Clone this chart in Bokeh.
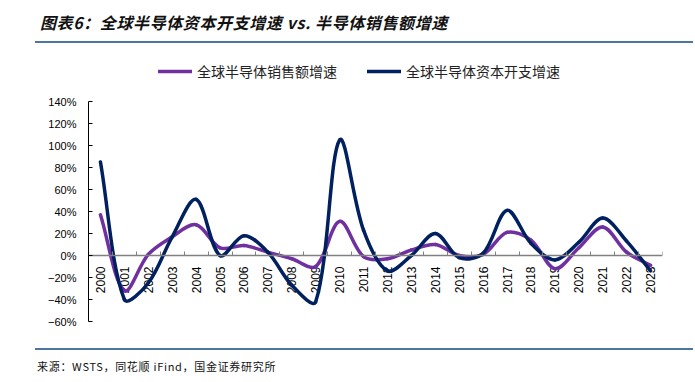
import numpy as np
from bokeh.plotting import figure
from bokeh.models import Range1d, FixedTicker, Legend, LegendItem, Div, ColumnDataSource
from bokeh.layouts import column
from bokeh.embed import file_html
from bokeh.resources import INLINE
from bokeh.core.properties import value

# ---------------- data ----------------
years = ["2000", "2001", "2002", "2003", "2004", "2005", "2006", "2007",
         "2008", "2009", "2010", "2011", "2012", "2013", "2014", "2015",
         "2016", "2017", "2018", "2019", "2020", "2021", "2022", "2023"]
sales_growth = [37, -32, 1, 17, 28, 7, 9, 3, -3, -10, 31, -1,
                -3, 5, 10, 0, 1, 21, 14, -12, 7, 26, 3, -9]
capex_growth = [85, -40, -25, 17, 51, 0, 18, 3, -27, -42, 105, 23,
                -14, 0, 20, -2, 2, 41, 11, -4, 12, 34, 13, -14]
y_ticks = [-60, -40, -20, 0, 20, 40, 60, 80, 100, 120, 140]
sales_name = "全球半导体销售额增速"
capex_name = "全球半导体资本开支增速"
title_text = "图表6：全球半导体资本开支增速 vs. 半导体销售额增速"
source_text = "来源：WSTS，同花顺 iFind，国金证券研究所"

SALES_COLOR = "#7030A0"
CAPEX_COLOR = "#002060"
RULE_COLOR = "#4a76a0"

# ---------------- layout constants (px) ----------------
W = 693
FRAME_LEFT, FRAME_RIGHT = 88, 662
FIG_TOP, FRAME_TOP, FRAME_BOTTOM, FIG_BOTTOM = 44, 56, 321, 346
PX_PER_PCT = 1.1
PX_PER_CAT = (FRAME_RIGHT - FRAME_LEFT) / len(years)
frame_h = FRAME_BOTTOM - FRAME_TOP
y_lo = y_ticks[0]
y_hi_range = y_lo + frame_h / PX_PER_PCT

xs = np.arange(len(years), dtype=float)


def smooth_segments(vals):
    """Bezier segments through the points, tangents weighted by segment length
    (similar to spreadsheet 'smoothed line')."""
    y = np.asarray(vals, dtype=float)
    n = len(y)
    sx, sy = xs * PX_PER_CAT, y * PX_PER_PCT

    def dist(i, j):
        return float(np.hypot(sx[j] - sx[i], sy[j] - sy[i]))

    d = dict(x0=[], y0=[], x1=[], y1=[], cx0=[], cy0=[], cx1=[], cy1=[])
    for i in range(n - 1):
        a, b = max(i - 1, 0), min(i + 2, n - 1)
        d12 = dist(i, i + 1)
        d01 = dist(a, i)
        d23 = dist(i + 1, b)
        f0 = d12 / (d01 + d12) / 3 if (d01 + d12) > 0 else 0
        f1 = d12 / (d12 + d23) / 3 if (d12 + d23) > 0 else 0
        d["x0"].append(xs[i]); d["y0"].append(y[i])
        d["x1"].append(xs[i + 1]); d["y1"].append(y[i + 1])
        d["cx0"].append(xs[i] + (xs[i + 1] - xs[a]) * f0)
        d["cy0"].append(y[i] + (y[i + 1] - y[a]) * f0)
        d["cx1"].append(xs[i + 1] - (xs[b] - xs[i]) * f1)
        d["cy1"].append(y[i + 1] - (y[b] - y[i]) * f1)
    return ColumnDataSource(d)


p = figure(width=W, height=FIG_BOTTOM - FIG_TOP, output_backend="svg",
           toolbar_location=None,
           x_range=Range1d(-0.5, len(years) - 0.5),
           y_range=Range1d(y_lo, y_hi_range),
           min_border_left=FRAME_LEFT, min_border_right=W - FRAME_RIGHT,
           min_border_top=FRAME_TOP - FIG_TOP,
           min_border_bottom=FIG_BOTTOM - FRAME_BOTTOM)
p.outline_line_color = None
p.xgrid.visible = False
p.ygrid.visible = False
p.background_fill_color = "white"
p.border_fill_color = "white"

# y axis
ya = p.yaxis[0]
ya.ticker = FixedTicker(ticks=y_ticks)
ya.bounds = (y_ticks[0], y_ticks[-1])
ya.major_label_overrides = {v: (f"{v}%" if v >= 0 else f"\u2212{-v}%") for v in y_ticks}
ya.major_label_text_font = "Liberation Sans"
ya.major_label_text_font_size = "11px"
ya.major_label_text_color = "black"
ya.major_label_standoff = 12
ya.major_tick_in = 4
ya.major_tick_out = 0
ya.minor_tick_line_color = None
ya.axis_line_color = "black"
ya.major_tick_line_color = "black"

# x axis at zero, tick marks between categories
bounds = list(xs + 0.5)
xa = p.xaxis[0]
xa.fixed_location = 0
xa.ticker = FixedTicker(ticks=bounds)
xa.major_label_overrides = {t: "" for t in bounds}
xa.major_label_standoff = 0
xa.major_tick_in = 4
xa.major_tick_out = 0
xa.minor_tick_line_color = None
xa.axis_line_color = "#808080"
xa.axis_line_width = 1.5
xa.major_tick_line_color = "#808080"

# category labels, rotated, just below the zero line
p.text(x=xs, y=[0] * len(years), text=years, angle=np.pi / 2,
       text_align="right", text_baseline="middle", y_offset=11,
       text_font=value("Liberation Sans"), text_font_size="12px",
       text_color="black")

r_sales = p.bezier(x0="x0", y0="y0", x1="x1", y1="y1", cx0="cx0", cy0="cy0",
                   cx1="cx1", cy1="cy1", source=smooth_segments(sales_growth),
                   line_color=SALES_COLOR, line_width=3.5, line_cap="round")
r_capex = p.bezier(x0="x0", y0="y0", x1="x1", y1="y1", cx0="cx0", cy0="cy0",
                   cx1="cx1", cy1="cy1", source=smooth_segments(capex_growth),
                   line_color=CAPEX_COLOR, line_width=3.5, line_cap="round")

legend = Legend(items=[LegendItem(label=sales_name, renderers=[r_sales]),
                       LegendItem(label=capex_name, renderers=[r_capex])],
                orientation="horizontal", location=(70, 240),
                padding=0, margin=0, spacing=30,
                glyph_width=34, glyph_height=20, label_height=20,
                label_standoff=5,
                label_text_font="Noto Sans CJK SC", label_text_font_size="14px",
                label_text_color="#222222",
                border_line_color=None, background_fill_alpha=0)
p.add_layout(legend)

title_div = Div(width=W, height=FIG_TOP, margin=(0, 0, 0, 0), text=(
    f'<div style="margin-left:35px;width:{W - 35}px;height:41px;'
    f'border-bottom:2.5px solid {RULE_COLOR};box-sizing:content-box;">'
    f'<div style="padding-left:5px;padding-top:12px;line-height:20px;'
    f'font-family:\'Noto Sans CJK SC\';font-size:16px;font-weight:bold;'
    f'font-style:italic;letter-spacing:0.6px;color:#111;white-space:nowrap;">'
    f'{title_text}</div></div>'))

source_div = Div(width=W, height=30, margin=(0, 0, 0, 0), text=(
    f'<div style="margin-left:35px;margin-top:2px;width:{W - 35}px;'
    f'border-top:2px solid {RULE_COLOR};">'
    f'<div style="padding-left:2px;padding-top:8px;line-height:16px;'
    f'font-family:\'Noto Sans CJK SC\';font-size:11px;letter-spacing:0.7px;'
    f'color:#111;white-space:nowrap;">{source_text}</div></div>'))

layout = column(title_div, p, source_div, spacing=0)
open("out.html", "w").write(file_html(layout, INLINE))
